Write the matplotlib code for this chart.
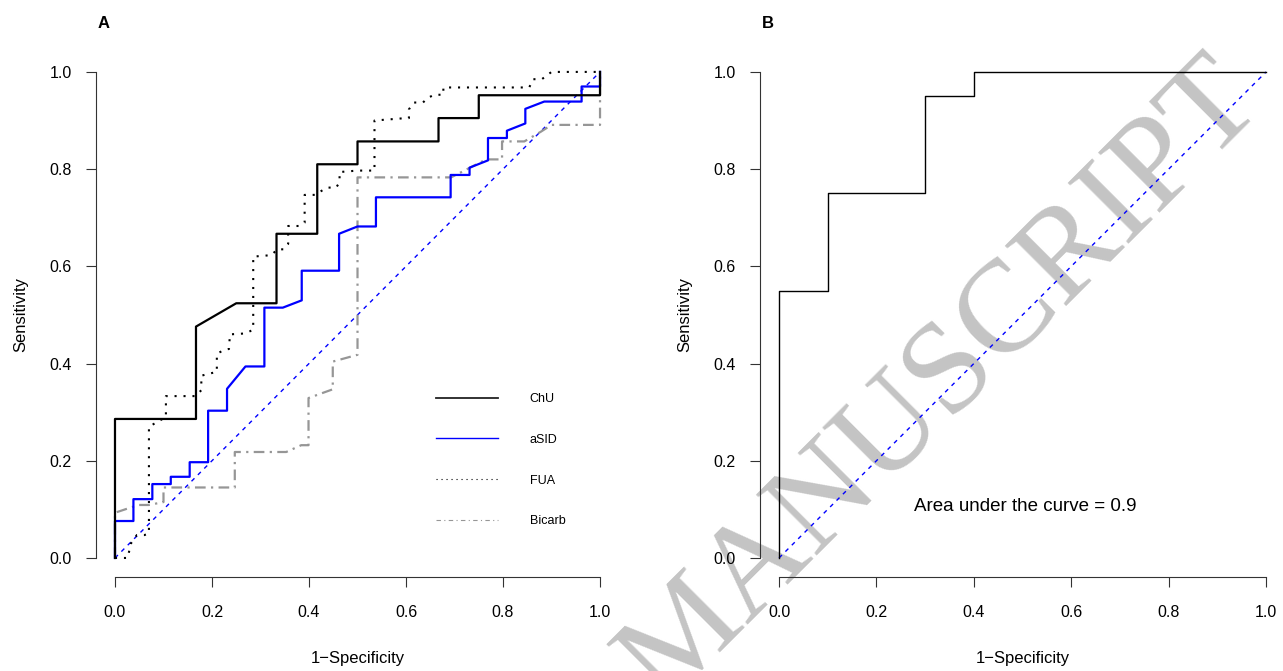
import matplotlib
matplotlib.use('Agg')
import matplotlib.pyplot as plt
from matplotlib.lines import Line2D

plt.rcParams['font.family'] = ['Liberation Sans', 'DejaVu Sans']

# panel A: ROC curves
chu_fpr = [0, 0, 0.167, 0.167, 0.25, 0.333, 0.333, 0.417, 0.417, 0.5, 0.5, 0.667, 0.667, 0.75, 0.75, 1.0, 1.0]
chu_tpr = [0, 0.286, 0.286, 0.476, 0.524, 0.524, 0.667, 0.667, 0.81, 0.81, 0.857, 0.857, 0.905, 0.905, 0.952, 0.952, 1.0]

asid_fpr = [0, 0, 0.038, 0.038, 0.077, 0.077, 0.115, 0.115, 0.154, 0.154, 0.192, 0.192, 0.231, 0.231, 0.269,
            0.308, 0.308, 0.346, 0.385, 0.385, 0.462, 0.462, 0.5, 0.538, 0.538, 0.692, 0.692, 0.731, 0.731,
            0.769, 0.769, 0.808, 0.808, 0.846, 0.846, 0.885, 0.962, 0.962, 1.0, 1.0]
asid_tpr = [0, 0.076, 0.076, 0.121, 0.121, 0.152, 0.152, 0.167, 0.167, 0.197, 0.197, 0.303, 0.303, 0.348, 0.394,
            0.394, 0.515, 0.515, 0.530, 0.591, 0.591, 0.667, 0.682, 0.682, 0.742, 0.742, 0.788, 0.788, 0.803,
            0.818, 0.864, 0.864, 0.879, 0.894, 0.924, 0.939, 0.939, 0.970, 0.970, 1.0]

fua_fpr = [0, 0.026, 0.033, 0.045, 0.06, 0.07, 0.07, 0.105, 0.105, 0.165, 0.178, 0.178, 0.21, 0.21, 0.225,
           0.235, 0.237, 0.27, 0.285, 0.285, 0.322, 0.335, 0.348, 0.357, 0.357, 0.379, 0.391, 0.391, 0.412,
           0.437, 0.456, 0.463, 0.463, 0.5, 0.535, 0.535, 0.6, 0.606, 0.606, 0.616, 0.635, 0.644, 0.658,
           0.677, 0.677, 0.854, 0.862, 0.88, 0.9, 1.0]
fua_tpr = [0, 0, 0.03, 0.047, 0.047, 0.05, 0.27, 0.29, 0.333, 0.333, 0.345, 0.375, 0.383, 0.42, 0.428,
           0.43, 0.46, 0.462, 0.47, 0.62, 0.623, 0.635, 0.635, 0.646, 0.683, 0.683, 0.69, 0.747, 0.747,
           0.762, 0.762, 0.773, 0.794, 0.797, 0.797, 0.9, 0.905, 0.905, 0.923, 0.937, 0.937, 0.946, 0.953,
           0.953, 0.968, 0.968, 0.985, 0.985, 1.0, 1.0]

bicarb_fpr = [0, 0, 0.048, 0.07, 0.1, 0.1, 0.247, 0.247, 0.353, 0.384, 0.399, 0.399, 0.449, 0.449, 0.5,
              0.5, 0.693, 0.765, 0.798, 0.798, 0.844, 0.878, 0.9, 1.0, 1.0]
bicarb_tpr = [0, 0.093, 0.109, 0.109, 0.115, 0.145, 0.145, 0.218, 0.218, 0.232, 0.232, 0.329, 0.347, 0.404, 0.418,
              0.783, 0.783, 0.82, 0.82, 0.857, 0.857, 0.877, 0.891, 0.891, 1.0]

# panel B: single ROC curve
b_fpr = [0, 0, 0.1, 0.1, 0.3, 0.3, 0.4, 0.4, 1.0]
b_tpr = [0, 0.55, 0.55, 0.75, 0.75, 0.95, 0.95, 1.0, 1.0]
auc_text = 'Area under the curve = 0.9'

ticks = [0.0, 0.2, 0.4, 0.6, 0.8, 1.0]
tick_labels = ['0.0', '0.2', '0.4', '0.6', '0.8', '1.0']

GRAY = '#969696'
BLUE = '#0000ff'


def style_axes(ax):
    """R-like axes: detached left/bottom spines spanning 0..1"""
    ax.set_xlim(-0.04, 1.04)
    ax.set_ylim(-0.04, 1.04)
    ax.patch.set_alpha(0)
    for side in ['top', 'right']:
        ax.spines[side].set_visible(False)
    ax.spines['left'].set_bounds(0, 1)
    ax.spines['bottom'].set_bounds(0, 1)
    ax.spines['left'].set_color('#333333')
    ax.spines['bottom'].set_color('#333333')
    ax.set_xticks(ticks)
    ax.set_xticklabels(tick_labels)
    ax.set_yticks(ticks)
    ax.set_yticklabels(tick_labels)
    ax.tick_params(axis='both', direction='out', length=7, color='#333333', labelsize=11.5)
    ax.tick_params(axis='x', pad=13)
    ax.tick_params(axis='y', pad=10)
    ax.set_xlabel('1\u2212Specificity', fontsize=12, labelpad=22)
    ax.set_ylabel('Sensitivity', fontsize=12, labelpad=15)
    ax.plot([0, 1], [0, 1], color=BLUE, lw=1, dashes=(3, 3.5))


fig = plt.figure(figsize=(12.83, 6.71), dpi=100)
ax_a = fig.add_axes([0.0745, 0.1395, 0.4083, 0.7823])
ax_b = fig.add_axes([0.592, 0.1395, 0.41, 0.7823])

# watermark behind everything
fig.text(0.734, 0.43, 'MANUSCRIPT', rotation=45, rotation_mode='anchor', ha='center', va='center',
         fontsize=95, color='#c4c4c4', family='Liberation Serif', zorder=-1)

# panel A
style_axes(ax_a)
ax_a.plot(bicarb_fpr, bicarb_tpr, color=GRAY, lw=1.6, dashes=(4.8, 2.4, 1, 2.4))
ax_a.plot(fua_fpr, fua_tpr, color='black', lw=1.5, dashes=(1, 3.3))
ax_a.plot(asid_fpr, asid_tpr, color=BLUE, lw=1.6)
ax_a.plot(chu_fpr, chu_tpr, color='black', lw=1.6)

handles = [Line2D([], [], color='#222222', lw=1.3),
           Line2D([], [], color=BLUE, lw=1),
           Line2D([], [], color='black', lw=0.8, dashes=(1, 3.5)),
           Line2D([], [], color=GRAY, lw=0.8, dashes=(4, 3, 1, 3))]
ax_a.legend(handles, ['ChU', 'aSID', 'FUA', 'Bicarb'], loc='upper left',
            bbox_to_anchor=(0.3398, 0.4143), bbox_transform=fig.transFigure,
            frameon=False, fontsize=9, handlelength=5.0, handletextpad=2.5,
            labelspacing=2.3, borderpad=0, borderaxespad=0)
fig.text(0.0805, 0.965, 'A', fontsize=12, fontweight='bold', va='center', ha='center')

# panel B
style_axes(ax_b)
ax_b.plot(b_fpr, b_tpr, color='black', lw=1)
ax_b.text(0.505, 0.105, auc_text, ha='center', va='center', fontsize=13.5)
fig.text(0.5985, 0.965, 'B', fontsize=12, fontweight='bold', va='center', ha='center')

plt.savefig('out.png', dpi=100)
